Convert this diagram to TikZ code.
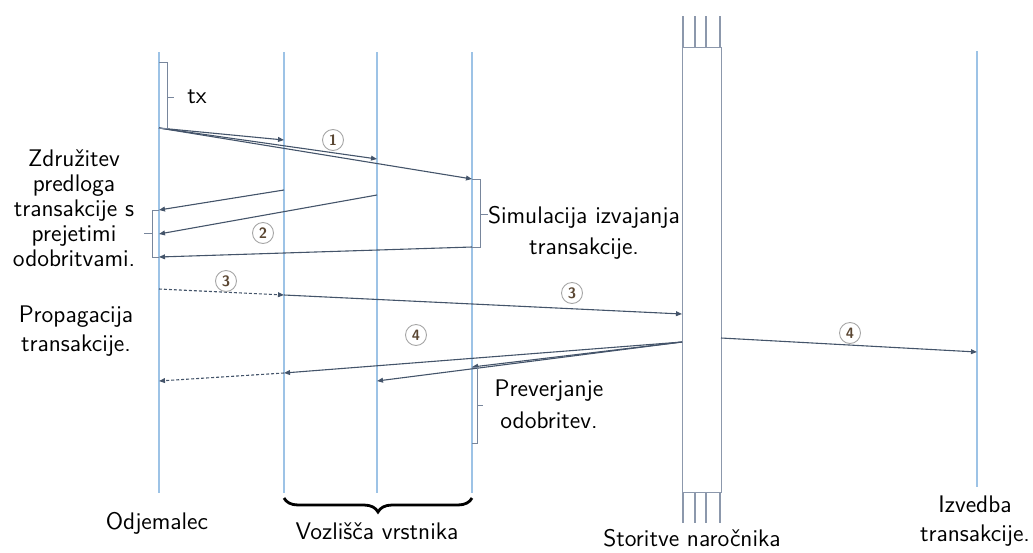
\documentclass[tikz,border=0pt]{standalone}
\usepackage{fontspec}
\usetikzlibrary{arrows.meta,decorations.pathreplacing}
\definecolor{lifeblue}{RGB}{157,195,230}
\definecolor{msgdark}{RGB}{68,84,106}
\definecolor{boxgray}{RGB}{140,152,172}
\definecolor{brackgray}{RGB}{120,134,156}
\definecolor{numtxt}{RGB}{90,70,50}
\begin{document}
\begin{tikzpicture}[x=0.5pt,y=-0.5pt,
  lifeline/.style={draw=lifeblue,line width=0.75pt},
  msg/.style={draw=msgdark,line width=0.55pt,-{Triangle[length=3pt,width=2.4pt]}},
  dmsg/.style={msg,dash pattern=on 1.5pt off 1pt},
  bracket/.style={draw=brackgray,line width=0.5pt},
  txt/.style={font=\sffamily\fontsize{12}{15}\selectfont,align=center,text=black,inner sep=0pt},
  stepnum/.style={circle,draw=gray!70,line width=0.45pt,inner sep=0pt,minimum size=10.5pt,
    font=\sffamily\bfseries\fontsize{7.5}{7.5}\selectfont,text=numtxt},
]
\useasboundingbox (0,0) rectangle (1033,552);

% lifelines
\foreach \n/\x in {cl/159,pa/284,pb/377,pc/472}{
  \coordinate (\n-top) at (\x,52);
  \coordinate (\n-bot) at (\x,493);
  \draw[lifeline] (\n-top) -- (\n-bot);
}
\coordinate (ex-top) at (977,51);
\coordinate (ex-bot) at (977,487);
\draw[lifeline] (ex-top) -- (ex-bot);

% ordering service
\node[draw=boxgray,line width=0.7pt,minimum width=19.5pt,minimum height=222.5pt,
      inner sep=0pt,anchor=north west] (svc) at (682,47) {};
\foreach \x in {683,695,706,720}{
  \draw[draw=boxgray,line width=0.7pt] (\x,16) -- (\x,47);
  \draw[draw=boxgray,line width=0.7pt] (\x,492) -- (\x,523);
}

% message end points
\coordinate (m1s) at (159,128);
\coordinate (m1a) at (284,140);
\coordinate (m1b) at (377,159);
\coordinate (m1c) at (472,179);
\coordinate (m2as) at (284,190);
\coordinate (m2ae) at (159,210);
\coordinate (m2bs) at (377,195);
\coordinate (m2be) at (159,234);
\coordinate (m2cs) at (472,247);
\coordinate (m2ce) at (159,257);
\coordinate (m3s) at (159,289);
\coordinate (m3a) at (284,295);
\coordinate (m3e) at (682,314);
\coordinate (m4s) at (682,342);
\coordinate (m4a) at (284,373);
\coordinate (m4b) at (377,381);
\coordinate (m4c) at (472,367);
\coordinate (m4cl) at (159,381);
\coordinate (m4rs) at (721,338);
\coordinate (m4re) at (977,352);

% 1: proposal
\draw[msg] (m1s) -- (m1a);
\draw[msg] (m1s) -- (m1b);
\draw[msg] (m1s) -- (m1c);
% 2: endorsements
\draw[msg] (m2as) -- (m2ae);
\draw[msg] (m2bs) -- (m2be);
\draw[msg] (m2cs) -- (m2ce);
% 3: submission
\draw[dmsg] (m3s) -- (m3a);
\draw[msg] (m3a) -- (m3e);
% 4: delivery
\draw[msg] (m4s) -- (m4a);
\draw[msg] (m4s) -- (m4b);
\draw[msg] (m4s) -- (m4c);
\draw[dmsg] (m4a) -- (m4cl);
\draw[msg] (m4rs) -- (m4re);

% step numbers
\node[stepnum] (n1) at (333,140) {1};
\node[stepnum] (n2) at (263,233) {2};
\node[stepnum] (n3a) at (226,281) {3};
\node[stepnum] (n3b) at (572,293) {3};
\node[stepnum] (n4a) at (416,335) {4};
\node[stepnum] (n4b) at (850,333) {4};

% brackets
\draw[bracket] (159,62) -- (167,62) -- (167,128) -- (159,128);
\draw[bracket] (167,97) -- (174,97);
\draw[bracket] (472,179) -- (480,179) -- (480,247) -- (472,247);
\draw[bracket] (480,214) -- (488,214);
\draw[bracket] (159,210) -- (152,210) -- (152,257) -- (159,257);
\draw[bracket] (152,233) -- (144,233);
\draw[bracket] (472,367) -- (477,367) -- (477,443) -- (472,443);
\draw[bracket] (477,405) -- (483,405);

% peers brace
\coordinate (br-r) at (472,498);
\coordinate (br-l) at (284,498);
\draw[decorate,decoration={brace,amplitude=7pt},line width=1.4pt] (br-r) -- (br-l);

% texts
\node[txt] (ttx) at (197,97) {tx};
\node[txt,font=\sffamily\fontsize{12}{12.5}\selectfont] (tjoin) at (74,208)
  {Združitev\\predloga\\transakcije s\\prejetimi\\odobritvami.};
\node[txt,font=\sffamily\fontsize{12}{14.5}\selectfont] (tprop) at (76,331)
  {Propagacija\\transakcije.};
\node[txt,font=\sffamily\fontsize{12}{15.5}\selectfont] (tsim) at (584,233)
  {Simulacija izvajanja\\transakcije.};
\node[txt,font=\sffamily\fontsize{12}{16}\selectfont] (tver) at (549,404)
  {Preverjanje\\odobritev.};
\node[txt] (tcl) at (157,523) {Odjemalec};
\node[txt] (tpeers) at (377,531) {Vozlišča vrstnika};
\node[txt] (tsvc) at (692,538) {Storitve naročnika};
\node[txt,font=\sffamily\fontsize{12}{14.5}\selectfont] (tex) at (975,521)
  {Izvedba\\transakcije.};
\end{tikzpicture}
\end{document}
